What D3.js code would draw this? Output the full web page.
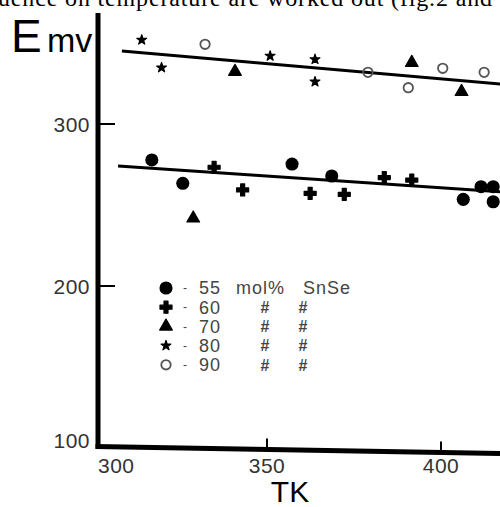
<!DOCTYPE html>
<html>
<head>
<meta charset="utf-8">
<script src="https://cdn.jsdelivr.net/npm/d3@7"></script>
<style>
  body { margin: 0; background: #fff; }
  svg { display: block; }
</style>
</head>
<body>
<script>
// data (T in K, E in mV)
var groups = ["55", "60", "70", "80", "90"];
var t55 = [316.9, 325.8, 357.2, 368.6, 406.4, 411.5, 415.0, 415.0];
var e55 = [277.8, 263.4, 275.3, 267.9, 253.5, 261.3, 261.3, 252.0];
var t60 = [334.8, 343.0, 362.4, 372.2, 383.7, 391.6];
var e60 = [273.3, 259.3, 257.2, 256.6, 266.9, 265.4];
var t70 = [328.8, 340.8, 391.6, 405.9];
var e70 = [241.8, 332.3, 337.8, 319.9];
var t80 = [314.0, 319.7, 350.9, 363.8, 363.8];
var e80 = [351.9, 334.8, 342.0, 339.9, 326.1];
var t90 = [332.2, 379.0, 390.6, 400.5, 412.4];
var e90 = [349.2, 331.9, 322.4, 334.4, 331.9];
// two fitted lines: [T start, T end], [E start, E end]
var upperT = [308.3, 425], upperE = [345.0, 323.2];
var lowerT = [307.2, 425], lowerE = [274.0, 257.0];
var xTicks = [300, 350, 400];
var yTicks = [100, 200, 300];

var width = 500, height = 507;
var svg = d3.select("body").append("svg").attr("width", width).attr("height", height);

var x = d3.scaleLinear().domain([300, 400]).range([93, 441]);
var y = d3.scaleLinear().domain([100, 300]).range([448, 124]);

var axisX = 98;
var axisY0 = 446.5, axisY1 = 453.5; // the scan is a little skewed
function baseAt(px) { return axisY0 + (px - axisX) * (axisY1 - axisY0) / (width - axisX); }

// bit of the page text above the figure (cut by the scan edge)
svg.append("text")
  .attr("x", -2).attr("y", 6)
  .attr("font-family", "Liberation Serif, serif")
  .attr("font-size", 24)
  .attr("textLength", 494)
  .text("uence on temperature are worked out (fig.2 and");

var labelFont = "Liberation Sans, Arial, sans-serif";

// axes
svg.append("line").attr("x1", axisX).attr("x2", axisX).attr("y1", 13).attr("y2", axisY0 + 2)
  .attr("stroke", "#000").attr("stroke-width", 5);
svg.append("line").attr("x1", axisX - 2.5).attr("x2", width).attr("y1", axisY0).attr("y2", axisY1)
  .attr("stroke", "#000").attr("stroke-width", 5);

svg.selectAll(".ytick").data(yTicks.filter(d => d > 100)).enter().append("line")
  .attr("x1", axisX).attr("x2", axisX + 17)
  .attr("y1", d => y(d)).attr("y2", d => y(d))
  .attr("stroke", "#000").attr("stroke-width", 2);

svg.selectAll(".xtick").data(xTicks.filter(d => d > 300)).enter().append("line")
  .attr("x1", d => x(d)).attr("x2", d => x(d))
  .attr("y1", d => baseAt(x(d))).attr("y2", d => baseAt(x(d)) - 11)
  .attr("stroke", "#000").attr("stroke-width", 2);

svg.selectAll(".ylab").data(yTicks).enter().append("text")
  .attr("x", 90)
  .attr("y", d => d == 100 ? y(d) - 8 : y(d))
  .attr("dy", "0.36em")
  .attr("text-anchor", "end")
  .attr("font-family", labelFont).attr("font-size", 21)
  .attr("letter-spacing", 0.5)
  .attr("fill", "#333")
  .text(d => d);

svg.selectAll(".xlab").data(xTicks).enter().append("text")
  .attr("x", (d, i) => i == 0 ? axisX : x(d))
  .attr("y", 473)
  .attr("text-anchor", (d, i) => i == 0 ? "start" : "middle")
  .attr("font-family", labelFont).attr("font-size", 21)
  .attr("letter-spacing", 0.5)
  .attr("fill", "#333")
  .text(d => d);

// axis titles
svg.append("text").attr("x", 11).attr("y", 52)
  .attr("font-family", labelFont).attr("font-size", 46).text("E");
svg.append("text").attr("x", 47).attr("y", 52)
  .attr("font-family", labelFont).attr("font-size", 34).text("mv");
svg.append("text").attr("x", 290).attr("y", 502).attr("text-anchor", "middle")
  .attr("font-family", labelFont).attr("font-size", 30).text("TK");

// fitted lines
var line = d3.line().x(d => x(d[0])).y(d => y(d[1]));
[[upperT, upperE], [lowerT, lowerE]].forEach(function (p) {
  svg.append("path")
    .datum(d3.zip(p[0], p[1]))
    .attr("d", line)
    .attr("fill", "none").attr("stroke", "#000").attr("stroke-width", 3);
});

// markers
var styles = {
  "55": { type: d3.symbolCircle, size: 135, fill: "#000", stroke: "none" },
  "60": { type: d3.symbolCross, size: 80, fill: "#000", stroke: "#000" },
  "70": { type: d3.symbolTriangle, size: 70, fill: "#000", stroke: "#000" },
  "80": { type: d3.symbolStar, size: 30, fill: "#000", stroke: "#000" },
  "90": { type: d3.symbolCircle, size: 70, fill: "none", stroke: "#555" }
};
var series = {
  "55": d3.zip(t55, e55), "60": d3.zip(t60, e60), "70": d3.zip(t70, e70),
  "80": d3.zip(t80, e80), "90": d3.zip(t90, e90)
};

function marker(sel, g) {
  var s = styles[g];
  sel.attr("d", d3.symbol().type(s.type).size(s.size))
    .attr("fill", s.fill)
    .attr("stroke", s.stroke)
    .attr("stroke-width", g == "90" ? 1.8 : 1.2)
    .attr("stroke-linejoin", "round");
}

groups.forEach(function (g) {
  svg.append("g").selectAll("path").data(series[g]).enter().append("path")
    .attr("transform", d => "translate(" + x(d[0]) + "," + y(d[1]) + ")")
    .call(marker, g);
});

// legend
var leg = svg.append("g").attr("font-family", labelFont).attr("font-size", 18).attr("fill", "#444");
groups.forEach(function (g, i) {
  var yy = 288 + i * 19.2;
  leg.append("path").attr("transform", "translate(" + 166 + "," + yy + ")").call(marker, g);
  leg.append("text").attr("x", 183).attr("y", yy).attr("dy", "0.35em").attr("font-size", 12).text("-");
  leg.append("text").attr("x", 199).attr("y", yy).attr("dy", "0.36em").attr("letter-spacing", 1).text(g);
  if (i == 0) {
    leg.append("text").attr("x", 236).attr("y", yy).attr("dy", "0.36em").attr("letter-spacing", 1).text("mol%");
    leg.append("text").attr("x", 303).attr("y", yy).attr("dy", "0.36em").attr("letter-spacing", 1).text("SnSe");
  } else {
    leg.append("text").attr("x", 265).attr("y", yy).attr("dy", "0.36em").attr("text-anchor", "middle").attr("font-size", 16).attr("font-weight", "bold").text("#");
    leg.append("text").attr("x", 303).attr("y", yy).attr("dy", "0.36em").attr("text-anchor", "middle").attr("font-size", 16).attr("font-weight", "bold").text("#");
  }
});
</script>
</body>
</html>
